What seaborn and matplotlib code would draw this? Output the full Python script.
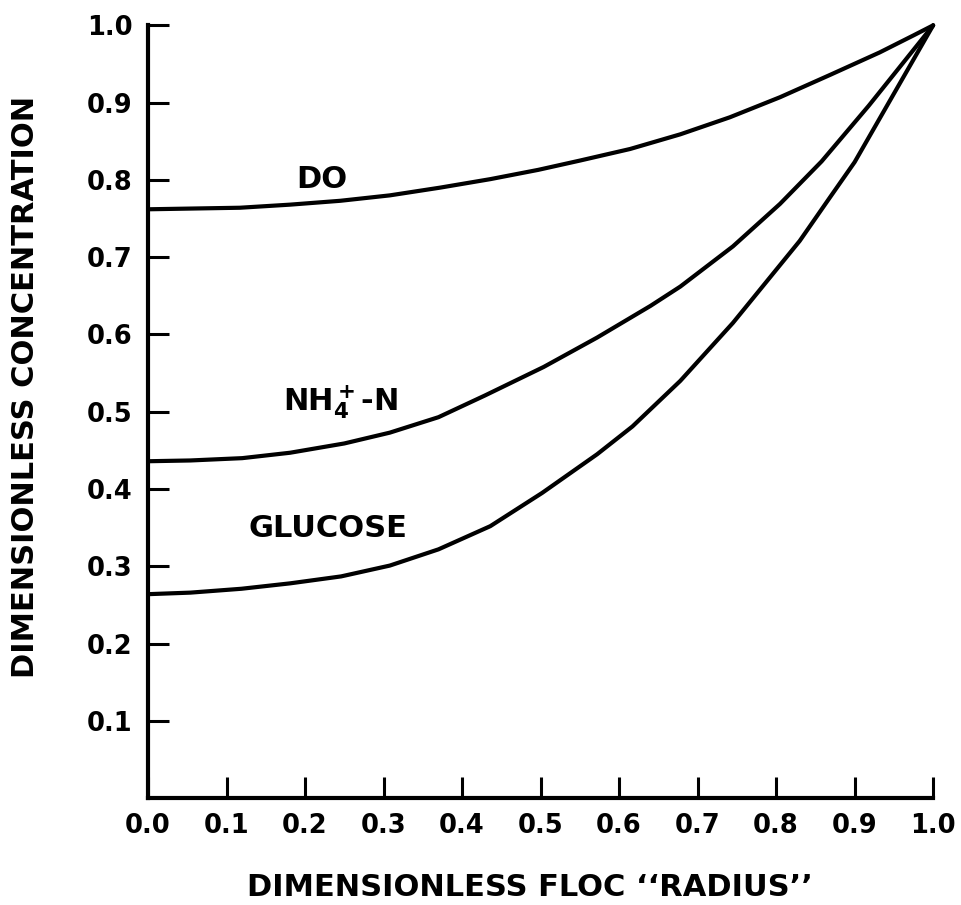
import matplotlib
matplotlib.use("Agg")
import matplotlib.pyplot as plt
import seaborn as sns
import pandas as pd

# Values
do_x = [0.0, 0.117, 0.181, 0.245, 0.308, 0.372, 0.436, 0.497, 0.55, 0.614,
        0.678, 0.741, 0.805, 0.869, 0.932, 0.975, 1.0]
do_y = [0.762, 0.764, 0.768, 0.773, 0.780, 0.790, 0.801, 0.813, 0.825, 0.840,
        0.859, 0.881, 0.907, 0.936, 0.965, 0.987, 1.0]

nh4_x = [0.0, 0.054, 0.12, 0.181, 0.25, 0.308, 0.37, 0.429, 0.504, 0.572,
         0.64, 0.678, 0.745, 0.805, 0.858, 0.918, 1.0]
nh4_y = [0.436, 0.437, 0.440, 0.447, 0.459, 0.473, 0.493, 0.521, 0.558, 0.596,
         0.637, 0.662, 0.714, 0.769, 0.824, 0.896, 1.0]

glu_x = [0.0, 0.054, 0.119, 0.181, 0.246, 0.308, 0.37, 0.436, 0.502, 0.572,
         0.617, 0.678, 0.745, 0.83, 0.869, 0.9, 1.0]
glu_y = [0.264, 0.266, 0.271, 0.278, 0.287, 0.301, 0.322, 0.352, 0.395, 0.445,
         0.481, 0.540, 0.615, 0.721, 0.778, 0.823, 1.0]

series_names = ["DO", "NH4", "GLUCOSE"]
x_ticks = [0.0, 0.1, 0.2, 0.3, 0.4, 0.5, 0.6, 0.7, 0.8, 0.9, 1.0]
x_tick_labels = ["0.0", "0.1", "0.2", "0.3", "0.4", "0.5", "0.6", "0.7", "0.8", "0.9", "1.0"]
y_ticks = [0.1, 0.2, 0.3, 0.4, 0.5, 0.6, 0.7, 0.8, 0.9, 1.0]
y_tick_labels = ["0.1", "0.2", "0.3", "0.4", "0.5", "0.6", "0.7", "0.8", "0.9", "1.0"]

sns.set_theme(style="ticks")
plt.rcParams["font.family"] = ["DejaVu Sans"]
plt.rcParams["mathtext.fontset"] = "dejavusans"
plt.rcParams["mathtext.default"] = "bf"
plt.rcParams["text.color"] = "black"
plt.rcParams["axes.labelcolor"] = "black"
plt.rcParams["xtick.color"] = "black"
plt.rcParams["ytick.color"] = "black"

frames = []
for name, xs, ys in zip(series_names, [do_x, nh4_x, glu_x], [do_y, nh4_y, glu_y]):
    frames.append(pd.DataFrame({"r": xs, "c": ys, "series": name}))
df = pd.concat(frames, ignore_index=True)

fig = plt.figure(figsize=(9.61, 9.05), dpi=100)
ax = fig.add_axes([0.154, 0.118, 0.817, 0.854])

sns.lineplot(data=df, x="r", y="c", units="series", estimator=None, sort=False,
             color="black", linewidth=3.0, ax=ax, legend=False)
for line in ax.lines:
    line.set_clip_on(False)
    line.set_solid_capstyle("round")
    line.set_solid_joinstyle("round")

ax.set_xlim(0, 1.0)
ax.set_ylim(0, 1.0)
sns.despine(ax=ax)
for sp in ["left", "bottom"]:
    ax.spines[sp].set_linewidth(3.0)
    ax.spines[sp].set_color("black")

ax.set_xticks(x_ticks)
ax.set_xticklabels(x_tick_labels)
ax.set_yticks(y_ticks)
ax.set_yticklabels(y_tick_labels)
ax.tick_params(axis="both", direction="in", length=15, width=2.2, color="black",
               labelsize=18.5, pad=11, labelcolor="black")
for lab in ax.get_xticklabels() + ax.get_yticklabels():
    lab.set_fontweight("bold")

ax.set_xlabel("DIMENSIONLESS FLOC \u2018\u2018RADIUS\u2019\u2019", fontsize=22,
              fontweight="bold", color="black")
ax.set_ylabel("DIMENSIONLESS CONCENTRATION", fontsize=22, fontweight="bold",
              color="black")
ax.xaxis.set_label_coords(0.487, -0.097)
ax.yaxis.set_label_coords(-0.1376, 0.532)

ax.text(0.222, 0.80, "DO", fontsize=22, fontweight="bold", ha="center", va="center")
ax.text(0.245, 0.513, r"NH$_4^+$-N", fontsize=22, fontweight="bold", ha="center", va="center")
ax.text(0.229, 0.349, "GLUCOSE", fontsize=22, fontweight="bold", ha="center", va="center")

ax.set_facecolor("white")
fig.patch.set_facecolor("white")
fig.savefig("out.png", dpi=100)
